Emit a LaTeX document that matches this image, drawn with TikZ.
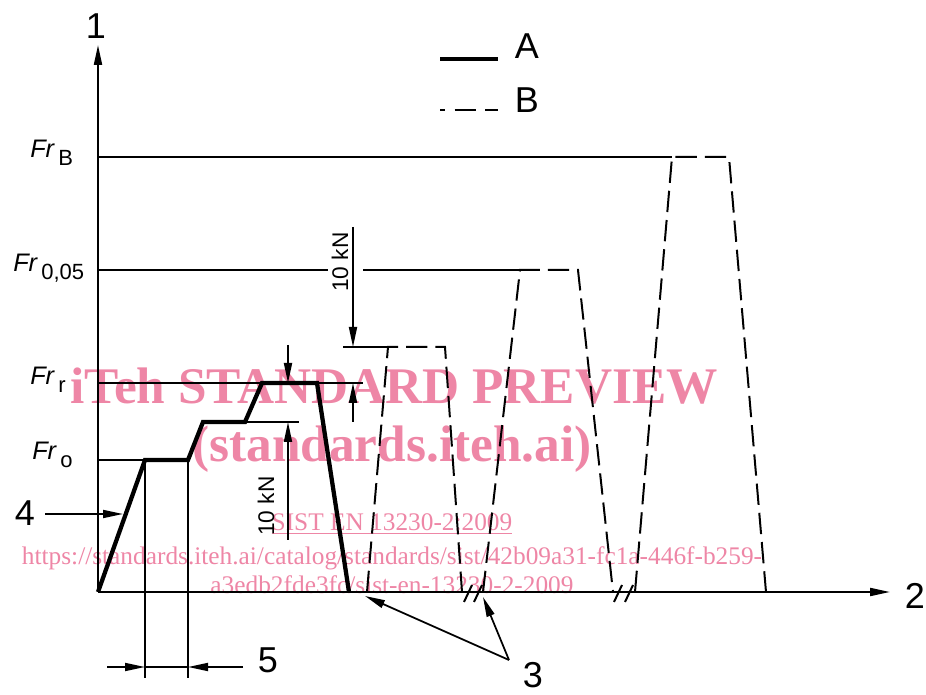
\documentclass[tikz,border=0pt]{standalone}
\usepackage{fontspec}
\setmainfont{Liberation Sans}
\newfontfamily\wmserif{Liberation Serif}
\usetikzlibrary{arrows.meta}
\definecolor{wmpink}{RGB}{238,134,166}
\tikzset{
  thinedge/.style={line width=1.5pt},
  profileedge/.style={line width=3.2pt,line join=miter},
  dashedprofile/.style={line width=1.5pt,dash pattern=on 16pt off 6pt},
  dimedge/.style={line width=1.3pt,-{Triangle[length=15pt,width=6pt]}},
  axisedge/.style={line width=1.5pt,-{Triangle[length=15pt,width=6pt]}},
  numbernode/.style={inner sep=0pt,font=\fontsize{27}{27}\selectfont},
  levelnode/.style={anchor=base west,inner sep=0pt,font=\fontsize{19}{19}\selectfont},
  knnode/.style={rotate=90,inner sep=0pt,font=\fontsize{17}{17}\selectfont},
  wmnode/.style={anchor=base,inner sep=0pt,text=wmpink}
}
\newcommand{\frlevel}[1]{\textit{Fr}\hspace{2.5pt}\raisebox{-6pt}{\fontsize{16.5}{16.5}\selectfont #1}}

\begin{document}
\begin{tikzpicture}[x=0.75pt,y=-0.75pt]
  \useasboundingbox (0,0) rectangle (926,695);

  \node[wmnode,font=\wmserif\bfseries\fontsize{38.5}{38.5}\selectfont] (wmtitle) at (394,404) {iTeh STANDARD PREVIEW};
  \node[wmnode,font=\wmserif\bfseries\fontsize{38.5}{38.5}\selectfont] (wmsite) at (392,462) {(standards.iteh.ai)};
  \node[wmnode,font=\wmserif\fontsize{19}{19}\selectfont] (wmcode) at (392,531) {\underline{SIST EN 13230-2:2009}};
  \node[wmnode,font=\wmserif\fontsize{19}{19}\selectfont] (wmurl) at (392,565) {https://standards.iteh.ai/catalog/standards/sist/42b09a31-fc1a-446f-b259-};
  \node[wmnode,font=\wmserif\fontsize{19}{19}\selectfont] (wmurltwo) at (392,594) {a3edb2fde3fc/sist-en-13230-2-2009};

  \coordinate (O) at (98,592);
  \coordinate (ytip) at (98,45);
  \coordinate (xtip) at (890,592);
  \draw[axisedge] (O) -- (ytip);
  \draw[axisedge] (O) -- (xtip);
  \node[numbernode] (ylab) at (96,26) {1};
  \node[numbernode] (xlab) at (915,596) {2};

  \node[levelnode] (frB) at (30,158) {\frlevel{B}};
  \node[levelnode] (frfive) at (13,272) {\frlevel{0,05}};
  \node[levelnode] (frr) at (30,385) {\frlevel{r}};
  \node[levelnode] (fro) at (32,460) {\frlevel{o}};

  \draw[thinedge] (98,157) -- (672,157);
  \draw[thinedge] (98,270) -- (328,270);
  \draw[thinedge] (363,270) -- (520,270);
  \draw[thinedge] (98,383) -- (363,383);
  \draw[thinedge] (98,460) -- (188,460);
  \draw[thinedge] (203,422) -- (299,422);
  \draw[thinedge] (343,347) -- (388,347);
  \draw[thinedge] (145,460) -- (145,678);
  \draw[thinedge] (188,460) -- (188,678);

  \coordinate (a1) at (145,460);
  \coordinate (a2) at (188,460);
  \coordinate (a3) at (203,422);
  \coordinate (a4) at (245,422);
  \coordinate (a5) at (262,383);
  \coordinate (a6) at (317,383);
  \coordinate (a7) at (349,592);
  \draw[profileedge] (O) -- (a1) -- (a2) -- (a3) -- (a4) -- (a5) -- (a6) -- (a7);

  \foreach \xa/\xb/\xc/\xd/\yt in {367/388/445/462/347, 483/520/578/613/270, 635/672/729/766/157}
    \draw[dashedprofile] (\xa,592) -- (\xb,\yt) -- (\xc,\yt) -- (\xd,592);

  \foreach \bx in {468,478,618,629}
    \draw[thinedge] (\bx-4,602) -- (\bx+4,585);

  \draw[dimedge] (288,345) -- (288,383);
  \draw[dimedge] (288,540) -- (288,422);
  \node[knnode] (knlow) at (266,506) {10 kN};
  \draw[dimedge] (353,227) -- (353,347);
  \draw[dimedge] (353,422) -- (353,383);
  \node[knnode] (knhigh) at (340,262) {10 kN};

  \draw[dimedge] (107,667) -- (145,667);
  \draw[dimedge] (243,667) -- (188,667);
  \draw[thinedge] (145,667) -- (188,667);
  \node[numbernode] (lfive) at (268,660) {5};

  \node[numbernode] (lfour) at (25,513) {4};
  \draw[dimedge] (45,514) -- (123,514);

  \node[numbernode] (lthree) at (533,675) {3};
  \coordinate (tjoin) at (509,660);
  \draw[dimedge] (tjoin) -- (365,596);
  \draw[dimedge] (tjoin) -- (483,597);

  \draw[profileedge] (440,59) -- (498,59);
  \draw[thinedge,dash pattern=on 16pt off 7pt,dash phase=12pt] (440,110) -- (498,110);
  \node[numbernode] (legA) at (527,46) {A};
  \node[numbernode] (legB) at (527,100) {B};
\end{tikzpicture}
\end{document}
